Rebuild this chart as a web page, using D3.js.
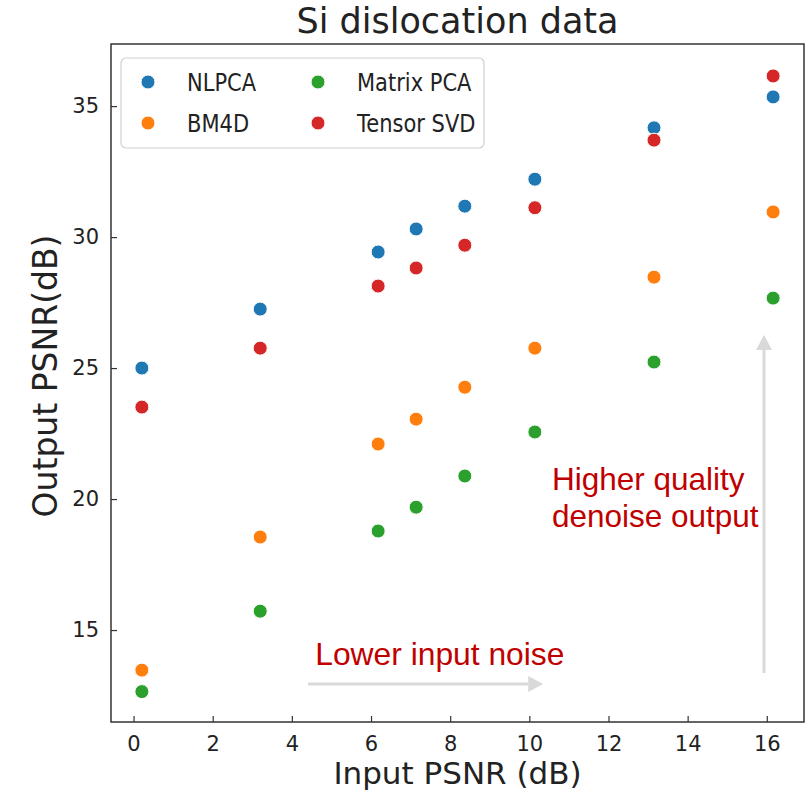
<!DOCTYPE html>
<html>
<head>
<meta charset="utf-8">
<script src="https://cdn.jsdelivr.net/npm/d3@7"></script>
<style>
  html, body { margin: 0; padding: 0; background: #fff; }
  svg text { font-family: "DejaVu Sans", sans-serif; fill: #222; }
  svg text.note { font-family: "Liberation Sans", Arial, sans-serif; fill: #c00000; }
</style>
</head>
<body>
<div id="container"></div>
<script>
const inputPsnr = [0.21, 3.2, 6.18, 7.14, 8.37, 10.14, 13.15, 16.16];

const nlpca = [25.0, 27.25, 29.43, 30.31, 31.18, 32.21, 34.17, 35.35];
const bm4d = [13.47, 18.55, 22.1, 23.05, 24.27, 25.76, 28.47, 30.96];
const matrixPca = [12.65, 15.72, 18.78, 19.69, 20.88, 22.56, 25.23, 27.67];
const tensorSvd = [23.51, 25.76, 28.13, 28.82, 29.69, 31.12, 33.7, 36.15];

const seriesNames = ["NLPCA", "BM4D", "Matrix PCA", "Tensor SVD"];
const seriesColors = ["#1f77b4", "#ff7f0e", "#2ca02c", "#d62728"];
const seriesValues = [nlpca, bm4d, matrixPca, tensorSvd];

const xTicks = [0, 2, 4, 6, 8, 10, 12, 14, 16];
const yTicks = [15, 20, 25, 30, 35];

// annotation anchors in data units
const lowerNoiseArrow = [[4.41, 12.94], [10.35, 12.94]];
const lowerNoiseText = [4.59, 13.66];
const higherQualityArrow = [[15.93, 13.36], [15.93, 26.26]];
const higherQualityText = [[10.57, 20.34, "Higher quality"], [10.57, 18.93, "denoise output"]];

const width = 805, height = 790;
const plot = { left: 111, right: 804, top: 44, bottom: 722 };

const svg = d3.select("#container").append("svg")
  .attr("width", width)
  .attr("height", height);

const x = d3.scaleLinear().domain([-0.57, 16.94]).range([plot.left, plot.right]);
const y = d3.scaleLinear().domain([11.49, 37.37]).range([plot.bottom, plot.top]);

// axes, ticks inward
const xAxis = svg.append("g")
  .attr("transform", `translate(0,${plot.bottom})`)
  .call(d3.axisBottom(x).tickValues(xTicks).tickSizeInner(-6).tickSizeOuter(0).tickPadding(14));
const yAxis = svg.append("g")
  .attr("transform", `translate(${plot.left},0)`)
  .call(d3.axisLeft(y).tickValues(yTicks).tickSizeInner(-6).tickSizeOuter(0).tickPadding(12));

[xAxis, yAxis].forEach((g) => {
  g.select(".domain").remove();
  g.selectAll(".tick line").attr("stroke", "#333").attr("stroke-width", 1.2);
  g.selectAll(".tick text")
    .attr("font-size", 21)
    .attr("font-family", "DejaVu Sans")
    .attr("fill", "#222");
});

svg.append("rect")
  .attr("x", plot.left)
  .attr("y", plot.top)
  .attr("width", plot.right - plot.left)
  .attr("height", plot.bottom - plot.top)
  .attr("fill", "none")
  .attr("stroke", "#333")
  .attr("stroke-width", 1.5);

// annotation arrows
function arrow(from, to) {
  const [x0, y0] = [x(from[0]), y(from[1])];
  const [x1, y1] = [x(to[0]), y(to[1])];
  const ang = Math.atan2(y1 - y0, x1 - x0);
  const headLen = 15, headHalf = 8;
  const bx = x1 - headLen * Math.cos(ang), by = y1 - headLen * Math.sin(ang);
  svg.append("line")
    .attr("x1", x0).attr("y1", y0).attr("x2", bx).attr("y2", by)
    .attr("stroke", "#d9d9d9").attr("stroke-width", 3);
  const px = -Math.sin(ang) * headHalf, py = Math.cos(ang) * headHalf;
  svg.append("path")
    .attr("d", `M${x1},${y1}L${bx + px},${by + py}L${bx - px},${by - py}Z`)
    .attr("fill", "#d9d9d9");
}
arrow(lowerNoiseArrow[0], lowerNoiseArrow[1]);
arrow(higherQualityArrow[0], higherQualityArrow[1]);

svg.append("text")
  .attr("class", "note")
  .attr("x", x(lowerNoiseText[0]))
  .attr("y", y(lowerNoiseText[1]))
  .attr("font-size", 31.8)
  .text("Lower input noise");

svg.selectAll(".hq")
  .data(higherQualityText)
  .join("text")
  .attr("class", "note")
  .attr("x", (d) => x(d[0]))
  .attr("y", (d) => y(d[1]))
  .attr("font-size", 31.5)
  .text((d) => d[2]);

// points
seriesValues.forEach((vals, i) => {
  svg.append("g")
    .selectAll("circle")
    .data(vals)
    .join("circle")
    .attr("cx", (d, j) => x(inputPsnr[j]))
    .attr("cy", (d) => y(d))
    .attr("r", 7)
    .attr("fill", seriesColors[i])
    .attr("stroke", "#fff")
    .attr("stroke-width", 1);
});

// legend
const legend = svg.append("g");
legend.append("rect")
  .attr("x", 121).attr("y", 58)
  .attr("width", 363).attr("height", 90)
  .attr("rx", 5)
  .attr("fill", "#fff").attr("fill-opacity", 0.8)
  .attr("stroke", "#d0d0d0").attr("stroke-width", 1.2);

const legendPos = [[148, 82], [148, 123], [318, 82], [318, 123]];
seriesNames.forEach((name, i) => {
  const [lx, ly] = legendPos[i];
  legend.append("circle")
    .attr("cx", lx).attr("cy", ly).attr("r", 7)
    .attr("fill", seriesColors[i]).attr("stroke", "#fff").attr("stroke-width", 1);
  const t = legend.append("text")
    .attr("x", lx + 39).attr("y", ly + 9)
    .attr("font-size", 25)
    .text(name);
  const len = t.node().getComputedTextLength();
  t.attr("textLength", len * 0.84).attr("lengthAdjust", "spacingAndGlyphs");
});

// titles
svg.append("text")
  .attr("x", (plot.left + plot.right) / 2)
  .attr("y", 33)
  .attr("text-anchor", "middle")
  .attr("font-size", 35)
  .text("Si dislocation data");

svg.append("text")
  .attr("x", (plot.left + plot.right) / 2)
  .attr("y", 784)
  .attr("text-anchor", "middle")
  .attr("font-size", 31)
  .text("Input PSNR (dB)");

svg.append("text")
  .attr("transform", `translate(57,${(plot.top + plot.bottom) / 2 - 7}) rotate(-90)`)
  .attr("text-anchor", "middle")
  .attr("font-size", 33)
  .text("Output PSNR(dB)");
</script>
</body>
</html>
